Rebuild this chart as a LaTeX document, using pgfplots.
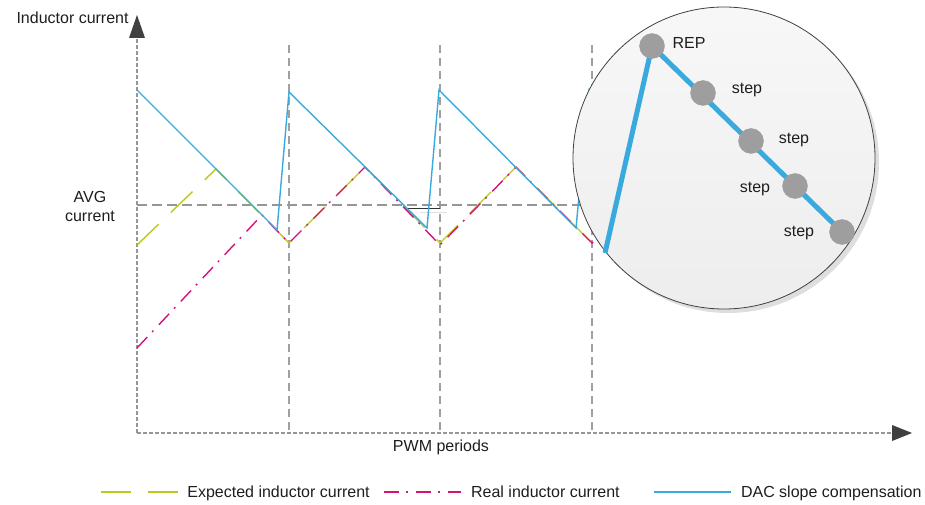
\documentclass[border=0pt]{standalone}
\usepackage{fontspec}
\setmainfont{Liberation Sans}
\usepackage{pgfplots}
\pgfplotsset{compat=1.18}
\usetikzlibrary{arrows.meta}

\definecolor{dacblue}{RGB}{58,170,222}
\definecolor{expgreen}{RGB}{186,202,24}
\definecolor{realmag}{RGB}{214,18,122}
\definecolor{axgray}{RGB}{150,150,150}
\definecolor{txt}{RGB}{30,30,30}

\begin{document}
\begin{tikzpicture}[font=\fontsize{16}{19}\selectfont, text=txt]
\begin{axis}[
  scale only axis,
  width=925pt, height=505pt,
  xmin=0, xmax=925, ymin=0, ymax=505,
  y dir=reverse,
  hide axis,
  clip=false,
  legend columns=3,
  legend cell align=left,
  legend image code/.code={\draw[#1] (0pt,0pt) -- (77pt,0pt);},
  legend style={draw=none, fill=none, inner sep=0pt, outer sep=0pt,
    at={(axis cs:100,492)}, anchor=west,
    font=\fontsize{16}{19}\selectfont,
    nodes={inner sep=0pt},
    /tikz/every odd column/.append style={column sep=9pt},
    /tikz/every even column/.append style={column sep=14pt}},
]
\path (axis cs:0,0) rectangle (axis cs:925,505);

% grid of PWM periods and average level
\draw[axgray!90, line width=1.2pt, dash pattern=on 8pt off 5pt]
  (axis cs:289,45) -- (axis cs:289,433)
  (axis cs:440,45) -- (axis cs:440,433)
  (axis cs:592,45) -- (axis cs:592,433);
\draw[axgray, line width=1.2pt, dash pattern=on 10pt off 5pt]
  (axis cs:137,205) -- (axis cs:600,205);
\draw[black!80, line width=0.9pt] (axis cs:405,208) -- (axis cs:440,208);
\draw[black!12, line width=0.8pt] (axis cs:420,212) -- (axis cs:447,212);

% axes
\draw[axgray, line width=1.3pt, dash pattern=on 4pt off 2pt]
  (axis cs:137,433) -- (axis cs:137,38);
\fill[black!75] (axis cs:129,38) -- (axis cs:137,15) -- (axis cs:145,38) -- cycle;
\draw[axgray, line width=1.3pt, dash pattern=on 4pt off 2pt]
  (axis cs:137,433) -- (axis cs:892,433);
\fill[black!75] (axis cs:892,425) -- (axis cs:912,433) -- (axis cs:892,441) -- cycle;

% series
\addplot[expgreen, line width=1.4pt, dash pattern=on 30pt off 17pt] coordinates {
  (137,245) (216,169) (289,243) (365,167) (440,243) (516,167) (592,243) (620,215)};
\addlegendentry{Expected inductor current}
\addplot[realmag, line width=1.4pt, dash pattern=on 15pt off 7pt on 2pt off 8pt] coordinates {
  (137,348) (262,215) (289,243) (365,167) (440,245) (516,167) (592,243) (620,215)};
\addlegendentry{Real inductor current\rule{20pt}{0pt}}
\addplot[dacblue, line width=1.4pt] coordinates {
  (137,90) (277,230) (289,92) (427,228) (439,90) (576,228) (589,90) (620,121)};
\addlegendentry{DAC slope compensation}

% labels
\node[anchor=west] at (axis cs:13,18) {Inductor current};
\node[align=center] at (axis cs:90,206) {AVG\\current};
\node at (axis cs:441,447) {PWM periods};

% zoomed detail
\fill[black!13] (axis cs:728,162) circle[radius=151pt];
\shade[top color=black!3, bottom color=black!7] (axis cs:724,158) circle[radius=151pt];
\draw[black!75, line width=0.8pt] (axis cs:724,158) circle[radius=151pt];
\addplot[dacblue, line width=5pt, line join=round] coordinates {
  (605,253) (652,46) (842,232)};
\addplot[only marks, mark=*, mark size=12.5pt, black!38,
  mark options={draw=black!38, fill=black!38}] coordinates {
  (652,46) (703,93) (751,141) (795,186) (842,232)};
\node[anchor=west] at (axis cs:669,43) {REP};
\node at (axis cs:747,90) {step};
\node at (axis cs:794,140) {step};
\node at (axis cs:755,189) {step};
\node at (axis cs:799,233) {step};
\end{axis}
\end{tikzpicture}
\end{document}
